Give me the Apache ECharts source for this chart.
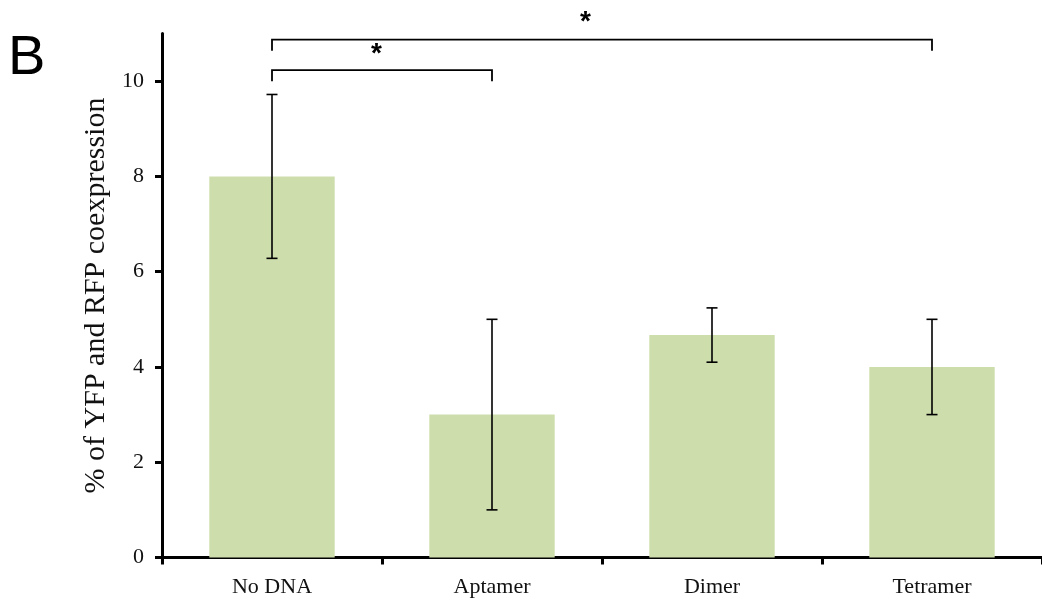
<!DOCTYPE html>
<html>
<head>
<meta charset="utf-8">
<script src="https://cdn.jsdelivr.net/npm/echarts@6/dist/echarts.min.js"></script>
<style>
  html, body { margin: 0; padding: 0; background: #fff; }
  #chart { width: 1042px; height: 602px; }
</style>
</head>
<body>
<div id="chart"></div>
<script>
// Co-expression of YFP and RFP per construct (mean ± error)
const categories = ['No DNA', 'Aptamer', 'Dimer', 'Tetramer'];
const means = [8.0, 3.0, 4.67, 4.0];
const errors = [1.72, 2.0, 0.57, 1.0];
const yTicks = [0, 2, 4, 6, 8, 10];
// Significance comparisons between groups
const comparisons = [['No DNA', 'Aptamer'], ['No DNA', 'Tetramer']];
const significance = ['*', '*'];

// Layout of the significance brackets (axis units)
const bracketLevels = [10.23, 10.87];
const bracketDrop = 0.23;
const starFraction = 0.475;
const starRaise = [0.33, 0.36];

const serif = '"Liberation Serif", "Times New Roman", serif';
const sans = '"Liberation Sans", Arial, sans-serif';

const chart = echarts.init(document.getElementById('chart'), null, { renderer: 'canvas' });

const errorData = categories.map((c, i) => [i, means[i] - errors[i], means[i] + errors[i]]);
const bracketData = comparisons.map((pair, k) => [
  categories.indexOf(pair[0]), bracketLevels[k], categories.indexOf(pair[1]), k
]);

chart.setOption({
  animation: false,
  backgroundColor: '#ffffff',
  grid: { left: 162, right: -1, top: 33.5, bottom: 44.5, containLabel: false },
  graphic: [{
    type: 'text', left: 8, top: 31,
    style: { text: 'B', font: '56px ' + sans, fill: '#000' }
  }],
  xAxis: {
    type: 'category',
    data: categories,
    axisLine: { lineStyle: { color: '#000', width: 3 } },
    axisTick: { show: true, length: 7, lineStyle: { color: '#000', width: 3 } },
    axisLabel: { color: '#111', fontFamily: serif, fontSize: 22, margin: 19 },
    splitLine: { show: false }
  },
  yAxis: {
    type: 'value',
    min: 0, max: 11,
    name: '% of YFP and RFP coexpression',
    nameLocation: 'middle',
    nameGap: 42,
    nameTextStyle: { color: '#111', fontFamily: serif, fontSize: 30 },
    axisLine: { show: true, lineStyle: { color: '#000', width: 3 } },
    axisTick: { show: true, length: 7, customValues: yTicks, lineStyle: { color: '#000', width: 3 } },
    axisLabel: { color: '#111', fontFamily: serif, fontSize: 22, margin: 18, customValues: yTicks },
    splitLine: { show: false }
  },
  series: [
    {
      type: 'bar',
      data: means,
      barWidth: '57%',
      itemStyle: { color: '#cdddac' },
      silent: true
    },
    {
      type: 'custom',
      data: errorData,
      encode: { x: 0, y: [1, 2] },
      silent: true,
      z: 5,
      renderItem: function (params, api) {
        const idx = api.value(0);
        const lo = api.coord([idx, api.value(1)]);
        const hi = api.coord([idx, api.value(2)]);
        const cap = 5.5;
        const st = { stroke: '#000', lineWidth: 1.6 };
        return {
          type: 'group',
          children: [
            { type: 'line', shape: { x1: lo[0], y1: lo[1], x2: hi[0], y2: hi[1] }, style: st },
            { type: 'line', shape: { x1: lo[0] - cap, y1: lo[1], x2: lo[0] + cap, y2: lo[1] }, style: st },
            { type: 'line', shape: { x1: hi[0] - cap, y1: hi[1], x2: hi[0] + cap, y2: hi[1] }, style: st }
          ]
        };
      }
    },
    {
      type: 'custom',
      data: bracketData,
      encode: { x: 0, y: 1 },
      silent: true,
      clip: false,
      z: 6,
      renderItem: function (params, api) {
        const a = api.value(0), level = api.value(1), b = api.value(2), k = api.value(3);
        const p1 = api.coord([a, level]);
        const p2 = api.coord([b, level]);
        const dropY = api.coord([a, level - bracketDrop])[1];
        const starY = api.coord([a, level + starRaise[k]])[1];
        const starX = p1[0] + (p2[0] - p1[0]) * starFraction;
        const st = { stroke: '#000', lineWidth: 1.8, fill: null };
        return {
          type: 'group',
          children: [
            { type: 'polyline', shape: { points: [[p1[0], dropY], [p1[0], p1[1]], [p2[0], p2[1]], [p2[0], dropY]] }, style: st },
            { type: 'text', style: { text: significance[k], x: starX, y: starY, align: 'center', verticalAlign: 'middle', font: 'bold 28px ' + sans, fill: '#000' } }
          ]
        };
      }
    }
  ]
});
</script>
</body>
</html>
